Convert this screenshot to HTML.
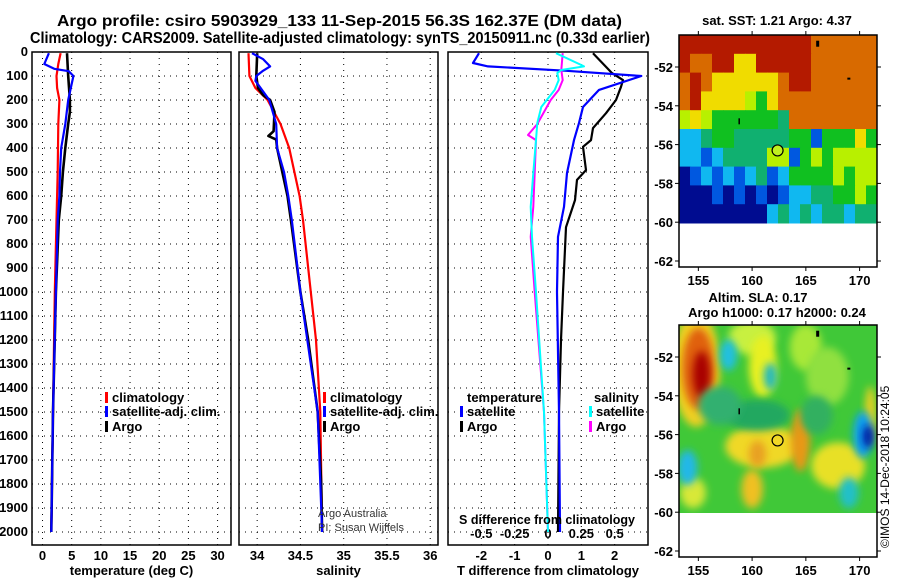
<!DOCTYPE html>
<html><head><meta charset="utf-8">
<style>
html,body{margin:0;padding:0;background:#fff;}
svg{display:block;font-family:"Liberation Sans",sans-serif;}
.t{font-weight:bold;font-size:16px;}
.tk{font-weight:bold;font-size:13px;}
</style></head>
<body>
<svg id="c" width="900" height="580" viewBox="0 0 900 580">
<text class="t" x="57" y="26" textLength="565" lengthAdjust="spacingAndGlyphs">Argo profile: csiro 5903929_133 11-Sep-2015 56.3S 162.37E (DM data)</text>
<text class="t" x="30" y="43" textLength="620" lengthAdjust="spacingAndGlyphs">Climatology: CARS2009. Satellite-adjusted climatology: synTS_20150911.nc (0.33d earlier)</text>
<g id="g"></g>
</svg>
<script>
// ---- data ----
const depthTicks=[0,100,200,300,400,500,600,700,800,900,1000,1100,1200,1300,1400,1500,1600,1700,1800,1900,2000];
const tempTicks=[0,5,10,15,20,25,30];
const salTicks=[34,34.5,35,35.5,36];
const tdiffTicks=[-2,-1,0,1,2];
const sdiffTicks=[-0.5,-0.25,0,0.25,0.5];
const tempArgoDepth=[5,100,200,250,300,400,500,600,700,1000,1500,2000];
const tempArgo=[4.2,4.4,4.7,4.7,4.4,3.9,3.5,3.2,2.8,2.3,1.8,1.5];
const tempClimDepth=[5,50,100,150,200,300,500,700,1000,1500,2000];
const tempClim=[3.1,2.7,2.4,2.5,2.9,2.7,2.6,2.4,2.1,1.8,1.5];
const tempSatDepth=[5,50,70,80,100,200,300,400,500,600,700,1000,1500,2000];
const tempSat=[1.1,0.3,2.0,4.5,5.3,4.4,3.9,3.2,3.0,2.9,2.6,2.3,1.8,1.5];
const salArgoDepth=[5,100,150,180,200,250,330,350,365,400,500,600,700,1000,1200,1500,1800,2000];
const salArgo=[34.0,33.99,34.01,34.07,34.15,34.2,34.19,34.13,34.22,34.23,34.29,34.35,34.39,34.5,34.59,34.7,34.74,34.75];
const salClimDepth=[5,100,150,200,300,400,500,600,700,800,1000,1200,1500,2000];
const salClim=[33.9,33.91,33.98,34.12,34.27,34.37,34.43,34.49,34.53,34.56,34.62,34.68,34.73,34.75];
const salSatDepth=[5,30,60,80,100,120,200,300,400,500,600,700,1000,1500,2000];
const salSat=[33.94,34.07,34.15,34.06,33.99,33.98,34.14,34.22,34.23,34.31,34.36,34.4,34.5,34.7,34.75];
const tdArgoDepth=[5,88,117,145,200,255,317,367,395,492,533,617,730,1000,1200,1500,2000];
const tdArgo=[1.35,1.92,2.25,2.19,2.04,1.74,1.35,1.29,1.05,1.14,0.87,0.81,0.54,0.45,0.39,0.33,0.3];
const tdSatDepth=[5,46,60,78,100,158,229,296,367,504,645,770,1000,1500,2000];
const tdSat=[-2.07,-2.25,-1.8,0.5,2.8,1.53,1.05,0.93,0.78,0.57,0.48,0.3,0.27,0.33,0.36];
const sdSatDepth=[5,54,60,75,88,117,158,229,296,367,504,645,770,1000,1500,2000];
const sdSat=[0.06,0.25,0.27,0.1,0.07,0.08,0.05,-0.05,-0.08,-0.09,-0.11,-0.13,-0.12,-0.09,-0.03,0];
const sdArgoDepth=[5,75,117,158,200,300,346,367,504,645,770,1000,1500,2000];
const sdArgo=[0.11,0.1,0.11,0.08,0.02,-0.08,-0.15,-0.09,-0.1,-0.11,-0.13,-0.1,-0.03,0];
const latTicks=[-52,-54,-56,-58,-60,-62];
const lonTicks=[155,160,165,170];
const sstGrid=["RRRRRRRRRRRROOOOOO","ROORRYYRRRRROOOOOO","OROYYYYYYORROOOOOO","ORYYYYyGYOOOOOOOOO","yYyGGGGGGgOOOOOOOO","CCgGGgggggGGBGGGYG","CCBCggggyyBGyGyyyy","DBCBCBCgBCGGGGyGyy","DDDBDBDBDBCCggGGyG","DDDDDDDDCgCgCggCgg"];
// ---- helpers ----
const NS="http://www.w3.org/2000/svg";
const G=document.getElementById('g');
function mk(tag,attrs,parent){const e=document.createElementNS(NS,tag);for(const k in attrs)e.setAttribute(k,attrs[k]);(parent||G).appendChild(e);return e;}
const top0=52, pxPerM=0.24, frameTop=52, frameBot=545;
const yD=d=>top0+d*pxPerM;
const panels=[
 {x0:32,x1:231,vmin:-1.8,vmax:32.3,ticks:tempTicks,name:'temperature-panel',title:'temperature (deg C)'},
 {x0:239,x1:438,vmin:33.79,vmax:36.09,ticks:salTicks,name:'salinity-panel',title:'salinity'},
 {x0:448,x1:648,vmin:-3,vmax:3,ticks:tdiffTicks,name:'difference-panel',title:'T difference from climatology'}];
panels.forEach(p=>{p.sx=v=>p.x0+(v-p.vmin)/(p.vmax-p.vmin)*(p.x1-p.x0);});
const sS=s=>panels[2].sx(s*4);
panels.forEach((p,i)=>{
 const fr=mk('rect',{x:p.x0,y:frameTop,width:p.x1-p.x0,height:frameBot-frameTop,fill:'none',stroke:'#000','stroke-width':1.5});
 
 
 depthTicks.forEach(d=>{const l=mk('line',{x1:p.x0,x2:p.x1,y1:yD(d),y2:yD(d),stroke:'#000','stroke-dasharray':'1,5'});
  
  });
 p.ticks.forEach(v=>{const x=p.sx(v);
  const l=mk('line',{x1:x,x2:x,y1:frameTop,y2:frameBot,stroke:'#000','stroke-dasharray':'1,5'});
  
  
  const t=mk('text',{x:x,y:560,'text-anchor':'middle',class:'tk'});t.textContent=String(v);
  
  });
 const at=mk('text',{x:(p.x0+p.x1)/2,y:575,'text-anchor':'middle',class:'tk'});at.textContent=p.title;
 
 
});
depthTicks.forEach(d=>{const t=mk('text',{x:28,y:yD(d)+4,'text-anchor':'end',class:'tk'});t.textContent=String(d);
 
 });
sdiffTicks.forEach(s=>{const t=mk('text',{x:sS(s),y:538,'text-anchor':'middle',class:'tk'});
 t.textContent=({'-0.5':'-0.5','-0.25':'-0.25','0':'0','0.25':'0.25','0.5':'0.5'})[String(s)];
 
 });
function line(p,depths,vals,color,name,w,fx){
 const pts=depths.map((d,i)=>(fx?fx(vals[i]):p.sx(vals[i])).toFixed(1)+','+yD(d).toFixed(1)).join(' ');
 const e=mk('polyline',{points:pts,fill:'none',stroke:color,'stroke-width':w||2.2,'stroke-linejoin':'round'});
 
 
}
const [P1,P2,P3]=panels;
line(P1,tempClimDepth,tempClim,'#f00','temp-climatology-line');
line(P1,tempArgoDepth,tempArgo,'#000','temp-argo-line',2.6);
line(P1,tempSatDepth,tempSat,'#00f','temp-satellite-line');
line(P2,salClimDepth,salClim,'#f00','sal-climatology-line');
line(P2,salArgoDepth,salArgo,'#000','sal-argo-line',2.6);
line(P2,salSatDepth,salSat,'#00f','sal-satellite-line');
line(P3,tdArgoDepth,tdArgo,'#000','tdiff-argo-line',2.2);
line(P3,tdSatDepth,tdSat,'#00f','tdiff-satellite-line',2.2);
line(P3,sdArgoDepth,sdArgo,'#f0f','sdiff-argo-line',2,sS);
line(P3,sdSatDepth,sdSat,'#0ff','sdiff-satellite-line',2,sS);
function legend(x,y,color,label,name){
 const r=mk('rect',{x:x,y:y-10,width:3,height:11,fill:color});
 
 
 const t=mk('text',{x:x+7,y:y,class:'tk'});t.textContent=label;
 
 
}
legend(105,402,'#f00','climatology','legend-climatology');
legend(105,416,'#00f','satellite-adj. clim.','legend-satellite');
legend(105,431,'#000','Argo','legend-argo');
legend(323,402,'#f00','climatology','legend2-climatology');
legend(323,416,'#00f','satellite-adj. clim.','legend2-satellite');
legend(323,431,'#000','Argo','legend2-argo');
(function(){const t=mk('text',{x:467,y:402,class:'tk'});t.textContent='temperature';
 
 
 const s=mk('text',{x:594,y:402,class:'tk'});s.textContent='salinity';
 
 
 const sd=mk('text',{x:459,y:524,class:'tk',textLength:176,lengthAdjust:'spacingAndGlyphs'});sd.textContent='S difference from climatology';
 
 
 const a=mk('text',{x:318,y:517,'font-size':11,fill:'#333'});a.textContent='Argo Australia';
 
 
 const b=mk('text',{x:318,y:531,'font-size':11,fill:'#333'});b.textContent='PI: Susan Wijffels';
 
 })();
legend(460,416,'#00f','satellite','legend-t-satellite');
legend(460,431,'#000','Argo','legend-t-argo');
legend(589,416,'#0ff','satellite','legend-s-satellite');
legend(589,431,'#f0f','Argo','legend-s-argo');
// ---- maps ----
const lonX=l=>679+(l-153.2)*10.75;
function mapAxes(oy,name){
 const latY=la=>67+oy+(-52-la)*19.4;
 const fr=mk('rect',{x:679,y:35+oy,width:198,height:232,fill:'none',stroke:'#000','stroke-width':1.5});
 
 
 latTicks.forEach(la=>{const y=latY(la);
  const t=mk('text',{x:673,y:y+5,'text-anchor':'end',class:'tk'});t.textContent=String(la);
  
  
  mk('line',{x1:675,x2:679,y1:y,y2:y,stroke:'#000'});mk('line',{x1:877,x2:881,y1:y,y2:y,stroke:'#000'});});
 lonTicks.forEach(lo=>{const x=lonX(lo);
  const t=mk('text',{x:x,y:285+oy,'text-anchor':'middle',class:'tk'});t.textContent=String(lo);
  
  
  mk('line',{x1:x,x2:x,y1:31+oy,y2:35+oy,stroke:'#000'});mk('line',{x1:x,x2:x,y1:267+oy,y2:271+oy,stroke:'#000'});});
 return latY;
}
const cmap={R:'#b41a00',O:'#d86a00',Y:'#f0dc00',y:'#b8f000',G:'#10c020',g:'#10b070',C:'#10b8f0',B:'#0058e0',D:'#000c90'};
const mapG=mk('g',{});
sstGrid.forEach((row,r)=>{[...row].forEach((ch,c)=>{
 const cell=mk('rect',{x:679+c*11,y:35+r*18.8,width:11.5,height:19.3,fill:cmap[ch]},mapG);
 
 });});
mapAxes(0,'sst-map');
const t1=mk('text',{x:777,y:25,'text-anchor':'middle',class:'tk'});t1.textContent='sat. SST: 1.21 Argo: 4.37';


// SLA map
const defs=mk('defs',{});
const f=mk('filter',{id:'bl',x:'-50%',y:'-50%',width:'200%',height:'200%'},defs);mk('feGaussianBlur',{stdDeviation:4},f);
const cp=mk('clipPath',{id:'cp'},defs);mk('rect',{x:679,y:325,width:198,height:188},cp);
const sla=mk('g',{'clip-path':'url(#cp)'});
const bg=mk('rect',{x:679,y:325,width:198,height:188,fill:'#40c838'},sla);


const latY2=la=>67+290+(-52-la)*19.4;
const blobs=[[160,-51,2.2,0.9,'#c8f040'],[161,-52.5,1.3,1.6,'#e8f020'],[165,-51.5,1.5,1.2,'#a8e838'],[167,-53,2,1.5,'#90e040'],
[154.8,-52.6,2.2,3,'#f0d020'],[155,-52.6,1.5,2.1,'#e06010'],[155.3,-52.9,0.8,1.2,'#a80000'],
[161,-56.6,3.5,1.1,'#f0d828'],[164.5,-56.3,0.9,1.6,'#e89818'],[160.5,-57,0.8,0.7,'#e8a020'],
[168,-57.6,2.5,1.2,'#e8e028'],[160,-58.8,1,1,'#f0c020'],[154.5,-59,1.2,0.8,'#d8e838'],[171,-55,0.5,1.5,'#f0d020'],
[157.8,-51.9,0.8,0.8,'#20c0e0'],[154,-57.7,0.9,0.9,'#20b8e8'],[169,-59,0.9,0.8,'#20c0c8'],[161.7,-53,0.6,0.7,'#20b8c0'],
[160.5,-55,3,0.8,'#20a860'],[157,-54.5,2,1,'#30b070'],[166,-55,1.5,1,'#30b060'],
[170.3,-56,0.9,1.2,'#10a0f0'],[170.8,-56.1,0.5,0.6,'#0018a0']];
blobs.forEach(b=>{const e=mk('ellipse',{cx:lonX(b[0]),cy:latY2(b[1]),rx:b[2]*10.75,ry:b[3]*19.4,fill:b[4],filter:'url(#bl)'},sla);
 
 });
mapAxes(290,'sla-map');
const t2=mk('text',{x:758,y:302,'text-anchor':'middle',class:'tk'});t2.textContent='Altim. SLA: 0.17';


const t3=mk('text',{x:777,y:317,'text-anchor':'middle',class:'tk'});t3.textContent='Argo h1000: 0.17 h2000: 0.24';


[0,290].forEach((oy,i)=>{
 const ly=la=>67+oy+(-52-la)*19.4;
 const c=mk('circle',{cx:lonX(162.37),cy:ly(-56.3),r:5.5,fill:i?'none':'#c0f020',stroke:'#000','stroke-width':1.2});
 
 
 [[166.1,-50.8,3,6],[169,-52.6,3,2],[158.8,-54.8,1.5,6]].forEach(s=>mk('rect',{x:lonX(s[0])-s[2]/2,y:ly(s[1])-s[3]/2,width:s[2],height:s[3],fill:'#000'}));
});
const im=mk('text',{x:0,y:0,'font-size':12,transform:'translate(889,548) rotate(-90)'});im.textContent='©IMOS 14-Dec-2018 10:24:05';


</script>
</body></html>
